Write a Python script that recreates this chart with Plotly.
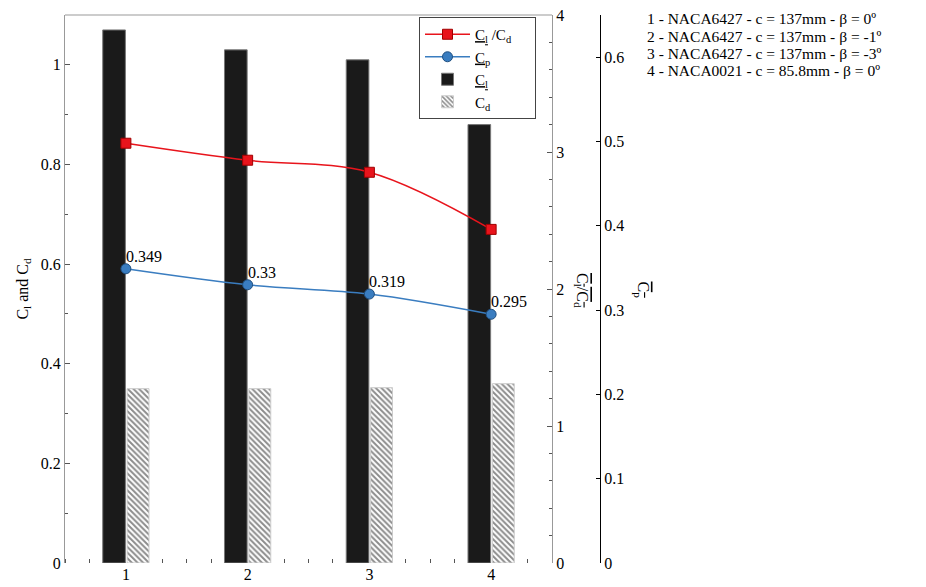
import plotly.graph_objects as go

categories = [1, 2, 3, 4]
cat_labels = ["1", "2", "3", "4"]
cl_values = [1.07, 1.03, 1.01, 0.88]
cd_values = [0.35, 0.35, 0.352, 0.36]
cl_cd_values = [3.064, 2.94, 2.852, 2.435]
cp_values = [0.349, 0.33, 0.319, 0.295]
cp_labels = ["0.349", "0.33", "0.319", "0.295"]
case_notes = [
    "1 - NACA6427 - c = 137mm - β = 0º",
    "2 - NACA6427 - c = 137mm - β = -1º",
    "3 - NACA6427 - c = 137mm - β = -3º",
    "4 - NACA0021 - c = 85.8mm - β = 0º",
]

FONT = "Liberation Serif"
FS = 16
W, H = 926, 587
ML, MR, MT, MB = 65, 0, 15, 24
PW = W - ML - MR
PH = H - MT - MB


def px_x(px):
    return (px - ML) / PW


def px_y(py):
    return 1 - (py - MT) / PH


OVL = "<span style='text-decoration:overline'>"
NB = "\u00a0"

fig = go.Figure()

fig.add_trace(go.Scatter(
    x=categories, y=cl_cd_values, yaxis="y2", mode="lines+markers",
    name="<u>C<sub>l</sub></u> /C<sub>d</sub>" + NB * 5,
    line=dict(color="#e8141c", width=1.5, shape="spline"),
    marker=dict(symbol="square", size=10, color="#e8141c",
                line=dict(color="#a00000", width=1)),
))
fig.add_trace(go.Scatter(
    x=categories, y=cp_values, yaxis="y3", mode="lines+markers",
    name="<u>C</u><sub>p</sub>",
    line=dict(color="#3a7dc0", width=1.5, shape="spline"),
    marker=dict(symbol="circle", size=10, color="#3a7dc0",
                line=dict(color="#1f4f80", width=1)),
))
fig.add_trace(go.Bar(
    x=categories, y=cl_values, yaxis="y",
    name="<u>C<sub>l</sub></u>",
    width=0.186, offset=-0.19,
    marker=dict(color="#1a1a1a", line=dict(color="#777777", width=1)),
))
fig.add_trace(go.Bar(
    x=categories, y=cd_values, yaxis="y",
    name="C<sub>d</sub>",
    width=0.18, offset=0.01,
    marker=dict(color="white", line=dict(color="#cccccc", width=1),
                pattern=dict(shape="\\", fgcolor="#1a1a1a", bgcolor="white",
                             size=4, solidity=0.5)),
))

axis_font = dict(family=FONT, size=FS, color="black")

fig.update_layout(
    width=W, height=H,
    margin=dict(l=ML, r=MR, t=MT, b=MB),
    paper_bgcolor="white", plot_bgcolor="white",
    font=dict(family=FONT, size=FS, color="black"),
    barmode="overlay",
    showlegend=True,
    legend=dict(
        x=px_x(419), y=px_y(17), xanchor="left", yanchor="top",
        bgcolor="white", bordercolor="#444444", borderwidth=1,
        font=dict(family=FONT, size=15), tracegroupgap=0,
        itemwidth=45,
    ),
    xaxis=dict(
        domain=[0, px_x(552)], range=[0.5, 4.5],
        tickmode="array", tickvals=categories, ticktext=cat_labels,
        ticks="", showline=False, showgrid=False, zeroline=False,
        mirror="ticks", layer="below traces",
        tickfont=axis_font,
        minor=dict(tickmode="linear", tick0=0.7, dtick=0.2, ticks="inside",
                   ticklen=4, tickcolor="#555555", showgrid=False),
    ),
    yaxis=dict(
        range=[0, 1.1], dtick=0.2, tick0=0,
        ticks="inside", ticklen=5, tickcolor="#555555",
        showline=True, linecolor="#999999", linewidth=1,
        showgrid=False, zeroline=False, layer="below traces",
        tickfont=axis_font,
        title=dict(text="C<sub>l</sub> and C<sub>d</sub>", font=axis_font, standoff=8),
        minor=dict(dtick=0.1, ticks="inside", ticklen=3, tickcolor="#555555", showgrid=False),
    ),
    yaxis2=dict(
        overlaying="y", side="right", anchor="x",
        range=[0, 4], dtick=1, tick0=0,
        ticks="inside", ticklen=5, tickcolor="#555555",
        showline=True, linecolor="#999999", linewidth=1,
        showgrid=False, zeroline=False,
        tickfont=axis_font,
        minor=dict(dtick=0.2, ticks="inside", ticklen=3, tickcolor="#555555", showgrid=False),
    ),
    yaxis3=dict(
        overlaying="y", side="right", anchor="free", position=px_x(600),
        range=[0, 0.65], dtick=0.1, tick0=0,
        ticks="inside", ticklen=4, tickcolor="black",
        showline=True, linecolor="black", linewidth=1,
        showgrid=False, zeroline=False,
        tickfont=axis_font,
    ),
)

# top border of the plot frame
fig.add_shape(type="line", xref="paper", yref="paper",
              x0=0, x1=px_x(552), y0=1, y1=1,
              line=dict(color="#999999", width=1))

# Cp value labels, anchored at each point
for xv, yv, lab in zip(categories, cp_values, cp_labels):
    fig.add_annotation(
        x=xv, y=yv, xref="x", yref="y3", text=lab, showarrow=False,
        xanchor="left", yanchor="bottom", xshift=-2, yshift=2,
        font=dict(family=FONT, size=FS, color="black"),
    )

# right-side rotated axis titles
fig.add_annotation(
    xref="paper", yref="paper", x=px_x(582), y=px_y(290),
    text=OVL + "C<sub>l</sub>/C<sub>d</sub></span>", textangle=90,
    showarrow=False, font=axis_font,
)
fig.add_annotation(
    xref="paper", yref="paper", x=px_x(654), y=px_y(290),
    text=OVL + "C<sub>p</sub></span>", textangle=90,
    showarrow=False, font=axis_font,
)

note_y = [19, 36.3, 53.6, 70.9]
for txt, yy in zip(case_notes, note_y):
    fig.add_annotation(
        xref="paper", yref="paper", x=px_x(645), y=px_y(yy),
        xanchor="left", yanchor="middle", text=txt, showarrow=False,
        font=dict(family=FONT, size=15.5, color="black"),
    )

fig.write_html("out.html")
